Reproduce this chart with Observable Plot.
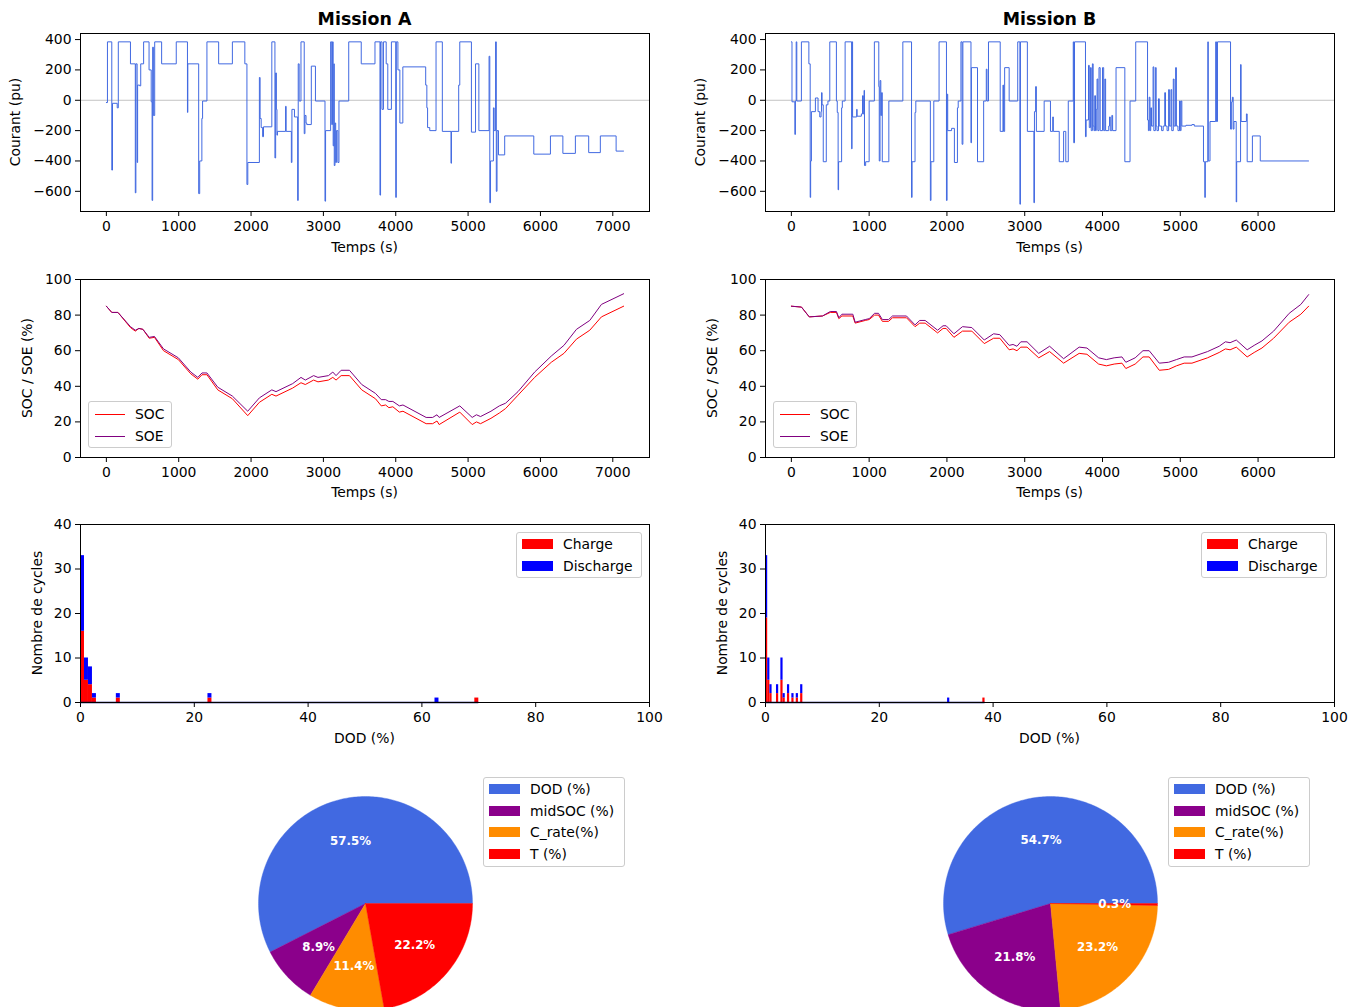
<!DOCTYPE html>
<html><head><meta charset="utf-8">
<script src="https://cdn.jsdelivr.net/npm/d3@7"></script>
<script src="https://cdn.jsdelivr.net/npm/@observablehq/plot@0.6"></script>
<style>
body{margin:0;background:#fff;font-family:"DejaVu Sans",sans-serif;color:#000;}
#fig{position:relative;width:1363px;height:1007px;overflow:hidden;background:#fff;}
.txt{position:absolute;white-space:nowrap;font-size:13.9px;line-height:1;}
.title{font-weight:bold;font-size:17.4px;}
.legend{position:absolute;border:1px solid #cccccc;border-radius:3px;background:rgba(255,255,255,0.8);font-size:13.9px;box-sizing:border-box;}
.legend .row{position:absolute;left:0;white-space:nowrap;}
</style></head><body><div id="fig"></div>
<script>
// ---------------- DATA ----------------
// Mission A current profile: [time (s), current (pu)] step points
const currentA = [[0,-15],[15,385],[75,-460],[85,-20],[150,-50],[165,385],[333,240],[400,-610],[408,240],[425,-410],[432,100],[460,95],[475,240],[515,385],[590,200],[620,-10],[632,-660],[640,350],[650,-100],[668,385],[764,240],[966,385],[1121,-80],[1126,240],[1276,-615],[1290,-400],[1320,-120],[1330,-5],[1390,385],[1552,240],[1742,385],[1914,240],[1943,-555],[1955,-410],[2115,150],[2125,-120],[2140,-180],[2160,-240],[2172,-175],[2287,385],[2330,-380],[2340,180],[2350,-60],[2358,-230],[2365,-205],[2477,-40],[2485,-205],[2557,-410],[2565,-60],[2600,-110],[2644,-660],[2652,240],[2665,-5],[2690,385],[2735,-220],[2745,-100],[2760,-150],[2770,-160],[2833,225],[2890,-5],[3022,-665],[3030,-200],[3100,385],[3115,-160],[3125,385],[3135,-300],[3145,240],[3150,-430],[3160,-150],[3170,-410],[3180,-200],[3200,-410],[3215,-5],[3350,385],[3523,240],[3713,385],[3782,-625],[3790,385],[3810,-60],[3830,385],[3868,240],[3890,-60],[3940,385],[4000,-640],[4008,385],[4030,200],[4057,-150],[4098,220],[4414,100],[4430,-50],[4440,-180],[4470,-200],[4557,385],[4644,-205],[4764,-415],[4770,-205],[4870,100],[4885,385],[5046,-210],[5103,240],[5149,-200],[5290,290],[5300,-675],[5310,-400],[5350,-50],[5360,-200],[5380,385],[5390,-600],[5400,-200],[5420,-360],[5506,-235],[5908,-355],[6138,-235],[6310,-350],[6483,-235],[6667,-345],[6828,-235],[7046,-335],[7150,-335]];

// Mission B current profile
const currentB = [[0,385],[8,-10],[45,-225],[52,-5],[62,385],[70,-5],[129,385],[225,240],[242,-640],[248,-400],[258,-75],[309,15],[343,-75],[365,-110],[382,-75],[388,50],[395,-30],[410,-405],[449,-30],[470,-5],[494,385],[579,-5],[590,-80],[601,-590],[607,-405],[646,-50],[655,-5],[691,385],[775,-320],[780,385],[787,-110],[840,-60],[845,-105],[900,-90],[915,30],[925,-90],[935,65],[940,-430],[955,-405],[1000,-5],[1067,385],[1124,90],[1130,-400],[1140,130],[1150,-100],[1160,50],[1169,-405],[1253,-5],[1433,385],[1545,-640],[1552,-405],[1590,-80],[1600,-5],[1787,-660],[1795,-405],[1831,-5],[1899,385],[1994,-660],[2002,40],[2010,-200],[2060,-185],[2096,-410],[2135,-50],[2145,-5],[2180,385],[2195,-290],[2205,385],[2309,-280],[2315,215],[2393,-405],[2472,-5],[2506,205],[2515,-5],[2534,385],[2685,-205],[2720,100],[2728,-205],[2742,215],[2800,-5],[2910,385],[2938,-685],[2945,385],[3034,-205],[3118,-675],[3125,-75],[3140,90],[3150,-205],[3250,-5],[3331,-205],[3360,-110],[3368,-205],[3444,-405],[3500,-205],[3528,-405],[3560,-5],[3624,385],[3630,-280],[3640,385],[3781,-240],[3790,-130],[3820,230],[3830,-180],[3845,215],[3855,-200],[3870,240],[3880,-170],[3890,-200],[3900,30],[3910,-200],[3920,-60],[3930,140],[3940,-200],[3955,215],[3970,-200],[4000,215],[4015,-200],[4030,140],[4040,-200],[4080,-170],[4090,-110],[4100,-200],[4120,-100],[4130,-200],[4174,215],[4287,-405],[4354,-5],[4427,385],[4579,-130],[4590,-200],[4600,20],[4610,-200],[4620,-50],[4630,-170],[4650,220],[4660,-200],[4680,215],[4690,-170],[4700,-200],[4720,10],[4730,-170],[4760,-200],[4780,-170],[4800,50],[4810,-170],[4830,-200],[4850,70],[4860,-170],[4880,70],[4890,-200],[4910,140],[4920,-170],[4940,215],[4950,-170],[4970,-200],[4990,-5],[5000,-200],[5010,-5],[5020,-170],[5073,-165],[5150,-160],[5180,-170],[5298,-405],[5315,-640],[5322,-405],[5354,385],[5360,-400],[5382,-140],[5455,385],[5465,-140],[5478,385],[5646,-190],[5660,-10],[5670,20],[5680,-190],[5690,-140],[5719,-670],[5725,-405],[5775,235],[5782,-140],[5850,-90],[5860,-405],[5927,-235],[6028,-400],[6650,-400]];

// SOC / SOE (%) versus time
const socA_t = [0,75,160,333,400,450,505,592,665,790,995,1167,1264,1322,1390,1540,1742,1954,2115,2287,2345,2575,2690,2750,2865,2925,3070,3130,3175,3245,3360,3530,3720,3800,3860,3905,3960,4050,4100,4420,4510,4570,4600,4885,5057,5115,5172,5316,5432,5518,5690,5920,6150,6325,6498,6682,6843,7150];
const socA   = [85,81.5,81.5,73,71,72.5,72,67,67.5,60,55,47,44,46.5,46.5,38,33,23.5,31,35.5,34.5,39,42,41,43.5,42.5,43.5,45,43.5,46,46,38,33,29,29.5,28,28.5,25.5,26,19,19,20.5,18.5,25.5,18.5,20,19,22,25,27.5,35,45,53.5,58.5,66.5,71.5,79,85];
const soeA   = [85,81.5,81.5,73.5,71.5,72.5,72,67.5,68,61,56,48,45,47.5,47.5,39.5,34.5,26,33.5,38,37,41.5,45,43.5,46,45,46,48,46,49,49,41,36,32.5,32.5,31.5,31.5,29,29.5,22.5,22.5,24,22.5,29,22.5,24,23,26,29,30.5,37,48,57,63,72,77,86,92];

const socB_t = [0,130,230,400,500,580,610,650,790,820,950,1000,1070,1120,1170,1250,1300,1480,1590,1650,1720,1880,1950,1990,2090,2200,2320,2480,2600,2680,2800,2850,2900,2950,3030,3180,3320,3500,3700,3800,3950,4050,4150,4250,4300,4420,4520,4600,4730,4850,4950,5050,5150,5350,5500,5580,5640,5720,5860,5950,6050,6200,6400,6550,6650];
const socB   = [85,84.5,79,79.5,81.5,81.5,78,79.5,79.5,75.5,77,77.5,80,80,76.5,76.5,78.5,78.5,73.5,75.5,75.5,70,72.5,72.5,67.5,71,71,64,67,67,60.5,61,60,62,62,56,59.5,53,58.5,58,52.5,51.5,52.5,53,50,52.5,56.5,56.5,49,49.5,51.5,53,53,56,59,61,60.5,62,56.5,59,61.5,67,76,80.5,85];
const soeB   = [85,84.5,79,79.5,82,82,78.5,80.5,80.5,76,77.5,78,81,81,77.5,77.5,79.5,79.5,74.5,77,77,71.5,74,74,69.5,73.5,73,66,69.5,69,63,63.5,62.5,65,65,58.5,62.5,55.5,62,61.5,56,55,56,56.5,53.5,56,60,60,53,53.5,55,56.5,56.5,59.5,62.5,65,64.5,66,60.5,63,65.5,71,81,86,91.5];

// Cycle histograms (DOD bins): bin start (%), bin width, counts
const histA_bin = [0,0.7,1.4,2.1,6.3,22.4,62.3,69.3];
const histA_width = 0.7;
const histA_charge = [16,5,4,1,1,1,0,1];
const histA_discharge = [17,5,4,1,1,1,1,0];
const histB_bin = [0,0.386,0.772,1.93,2.702,3.088,3.86,4.632,5.404,6.176,32.0,38.2];
const histB_width = 0.386;
const histB_charge = [19,5,2,2,5,1,2,1,1,2,0,1];
const histB_discharge = [14,5,2,2,5,1,2,1,1,2,1,0];

// Ageing factor shares (pie)
const pieLabels = ["DOD (%)","midSOC (%)","C_rate(%)","T (%)"];
const pieColors = ["#4169e1","#8b008b","#ff8c00","#ff0000"];
const pieA = [57.5,8.9,11.4,22.2];
const pieB = [54.7,21.8,23.2,0.3];

// ---------------- DRAWING ----------------
const fig = document.getElementById("fig");
const FW = 569, FH = 178;           // axes frame size
const mL = 80, mR = 12, mT = 10, mB = 45;
const fmt = d3.format("d");

function place(node, left, top){
  node.style.position = "absolute";
  node.style.left = left + "px";
  node.style.top = top + "px";
  fig.appendChild(node);
  return node;
}
function text(str, cx, cy, cls = "", rotate = false){
  const d = document.createElement("div");
  d.className = "txt " + cls;
  d.textContent = str;
  d.style.left = cx + "px";
  d.style.top = cy + "px";
  d.style.transform = "translate(-50%,-50%)" + (rotate ? " rotate(-90deg)" : "");
  fig.appendChild(d);
}
function axes(x0, y0, xDomain, yDomain, xTicks, yTicks, marks){
  const p = Plot.plot({
    width: FW + mL + mR, height: FH + mT + mB,
    marginLeft: mL, marginRight: mR, marginTop: mT, marginBottom: mB,
    style: {fontFamily: "DejaVu Sans", fontSize: "13.9px", color: "#000", background: "transparent", overflow: "visible"},
    x: {domain: xDomain, ticks: xTicks, tickFormat: fmt, label: null, tickSize: 5, tickPadding: 5},
    y: {domain: yDomain, ticks: yTicks, tickFormat: fmt, label: null, tickSize: 5, tickPadding: 4},
    marks: [...marks, Plot.frame({stroke: "#000", strokeWidth: 1})]
  });
  place(p, x0 - mL, y0 - mT);
}
function lineLegend(left, top, items){
  const L = document.createElement("div");
  L.className = "legend";
  L.style.left = left + "px"; L.style.top = top + "px";
  L.style.width = "84px"; L.style.height = "47px";
  items.forEach(([label, color], k) => {
    const r = document.createElement("div");
    r.className = "row";
    r.style.top = (4 + k * 22) + "px";
    r.innerHTML = `<span style="position:absolute;left:6px;top:8px;width:30px;height:0;border-top:1.2px solid ${color}"></span><span style="position:absolute;left:46px;top:0;line-height:16px">${label}</span>`;
    L.appendChild(r);
  });
  fig.appendChild(L);
}
function patchLegend(left, top, width, items){
  const L = document.createElement("div");
  L.className = "legend";
  L.style.left = left + "px"; L.style.top = top + "px";
  L.style.width = width + "px"; L.style.height = (items.length * 21.7 + 3) + "px";
  items.forEach(([label, color], k) => {
    const r = document.createElement("div");
    r.className = "row";
    r.style.top = (3 + k * 21.7) + "px";
    r.innerHTML = `<span style="position:absolute;left:5px;top:3px;width:31px;height:10px;background:${color}"></span><span style="position:absolute;left:46px;top:0;line-height:16px">${label}</span>`;
    L.appendChild(r);
  });
  fig.appendChild(L);
}

const cols = [
  {x0: 80, title: "Mission A", cur: currentA, tmax: 7150, xt: d3.range(0, 7001, 1000),
   st: socA_t, soc: socA, soe: soeA,
   hb: histA_bin, hw: histA_width, hc: histA_charge, hd: histA_discharge, pie: pieA},
  {x0: 765, title: "Mission B", cur: currentB, tmax: 6650, xt: d3.range(0, 6001, 1000),
   st: socB_t, soc: socB, soe: soeB,
   hb: histB_bin, hw: histB_width, hc: histB_charge, hd: histB_discharge, pie: pieB}
];

for (const c of cols){
  const cx = c.x0 + FW / 2;
  const pad = c.tmax * 0.05;
  const xDom = [-pad, c.tmax + pad];
  text(c.title, cx, 19.5, "title");

  // Row 1 : current
  const cur = c.cur.map(([t, i]) => ({t, i}));
  axes(c.x0, 33, xDom, [-733, 440], c.xt, [-600,-400,-200,0,200,400], [
    Plot.ruleY([0], {stroke: "#c4c4c4", strokeWidth: 1}),
    Plot.line(cur, {x: "t", y: "i", curve: "step-after", stroke: "#4169e1", strokeWidth: 1})
  ]);
  text("Courant (pu)", c.x0 - 64, 122, "", true);
  text("Temps (s)", cx, 247.5);

  // Row 2 : SOC / SOE
  const soc = c.st.map((t, k) => ({t, v: c.soc[k]}));
  const soe = c.st.map((t, k) => ({t, v: c.soe[k]}));
  axes(c.x0, 279, xDom, [0, 100], c.xt, [0,20,40,60,80,100], [
    Plot.line(soc, {x: "t", y: "v", stroke: "#ff0000", strokeWidth: 1}),
    Plot.line(soe, {x: "t", y: "v", stroke: "#800080", strokeWidth: 1})
  ]);
  text("SOC / SOE (%)", c.x0 - 52, 367.5, "", true);
  text("Temps (s)", cx, 492.5);
  lineLegend(c.x0 + 8, 401, [["SOC", "#ff0000"], ["SOE", "#800080"]]);

  // Row 3 : DOD histogram (stacked: charge below, discharge on top)
  const bars = [];
  c.hb.forEach((b, k) => {
    bars.push({x1: b, x2: b + c.hw, y1: 0, y2: c.hc[k], type: "Charge"});
    bars.push({x1: b, x2: b + c.hw, y1: c.hc[k], y2: c.hc[k] + c.hd[k], type: "Discharge"});
  });
  const dodMax = d3.max(c.hb) + c.hw;
  axes(c.x0, 524, [0, 100], [0, 40], d3.range(0, 101, 20), [0,10,20,30,40], [
    Plot.rect(bars.filter(d => d.y2 > d.y1), {x1: "x1", x2: "x2", y1: "y1", y2: "y2",
      fill: d => d.type === "Charge" ? "#ff0000" : "#0000ff"}),
    Plot.ruleY([0], {x1: 0, x2: dodMax, stroke: "#00006e", strokeWidth: 1.3})
  ]);
  text("Nombre de cycles", c.x0 - 42, 613, "", true);
  text("DOD (%)", cx, 738.5);
  patchLegend(c.x0 + 436, 532, 126, [["Charge", "#ff0000"], ["Discharge", "#0000ff"]]);

  // Row 4 : pie of ageing factors
  const total = d3.sum(c.pie);
  let acc = 0;
  const poly = [], labels = [];
  c.pie.forEach((v, k) => {
    const a0 = acc / total * 2 * Math.PI;
    acc += v;
    const a1 = acc / total * 2 * Math.PI;
    const n = Math.max(2, Math.ceil((a1 - a0) / (Math.PI / 180)));
    poly.push({key: pieLabels[k], x: 0, y: 0});
    for (let j = 0; j <= n; j++){
      const a = a0 + (a1 - a0) * j / n;
      poly.push({key: pieLabels[k], x: Math.cos(a), y: Math.sin(a)});
    }
    poly.push({key: pieLabels[k], x: 0, y: 0});
    const am = (a0 + a1) / 2;
    labels.push({x: 0.6 * Math.cos(am), y: 0.6 * Math.sin(am), t: v.toFixed(1) + "%"});
  });
  const R = 107, pcx = c.x0 + 285, pcy = 903;
  const pie = Plot.plot({
    width: 2 * R, height: 2 * R, margin: 0,
    x: {domain: [-1, 1], axis: null},
    y: {domain: [-1, 1], axis: null},
    color: {domain: pieLabels, range: pieColors},
    style: {background: "transparent", overflow: "visible", fontFamily: "DejaVu Sans"},
    marks: [
      Plot.line(poly, {x: "x", y: "y", z: "key", fill: "key", stroke: "key", strokeWidth: 0.4, curve: "linear"}),
      Plot.text(labels, {x: "x", y: "y", text: "t", fill: "white", fontWeight: "bold", fontSize: 11.8})
    ]
  });
  place(pie, pcx - R, pcy - R);
  patchLegend(c.x0 + 403, 777, 142, pieLabels.map((l, k) => [l, pieColors[k]]));
}
</script></body></html>
